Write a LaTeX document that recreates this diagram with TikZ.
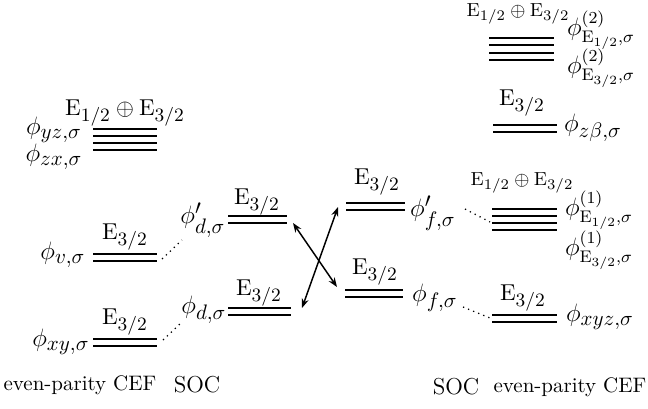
\documentclass[tikz,border=0pt]{standalone}
\usepackage{amsmath}
\usetikzlibrary{arrows.meta}
\DeclareMathSizes{9}{9}{7}{5}
\DeclareMathSizes{11}{11}{9}{7}
\DeclareMathSizes{12}{12}{8}{6}
\DeclareMathSizes{13}{13}{10}{8}
\tikzset{
  lvl/.style   ={double,double distance=2.4pt,line width=0.9pt},
  elbl/.style  ={font=\fontsize{11}{13}\selectfont,inner sep=0pt},
  esml/.style  ={font=\fontsize{9}{11}\selectfont,inner sep=0pt},
  philbl/.style={font=\fontsize{13}{15}\selectfont,inner sep=0pt},
  phisup/.style={font=\fontsize{12}{14}\selectfont,inner sep=0pt},
  captxt/.style={font=\fontsize{10}{12}\selectfont,inner sep=0pt},
  soctxt/.style={font=\fontsize{11}{13}\selectfont,inner sep=0pt},
  dotln/.style ={dotted,line width=0.6pt},
  biar/.style  ={{Stealth[length=4.5pt]}-{Stealth[length=4.5pt]},line width=0.7pt},
}
\begin{document}
\begin{tikzpicture}[x=0.01675cm,y=-0.01675cm]
  \useasboundingbox (0,0) rectangle (648,408);
  % even-parity CEF, left
  \coordinate (yzL) at (93,132.5);  \coordinate (yzR) at (157,132.5);
  \coordinate (zxL) at (93,146.5);  \coordinate (zxR) at (157,146.5);
  \coordinate (vL)  at (93,257.5);  \coordinate (vR)  at (157,257.5);
  \coordinate (xyL) at (93,342.5);  \coordinate (xyR) at (157,342.5);
  \draw[lvl] (yzL) -- (yzR);
  \draw[lvl] (zxL) -- (zxR);
  \draw[lvl] (vL) -- (vR);
  \draw[lvl] (xyL) -- (xyR);
  \node[elbl] (eyz) at (125,113) {$\mathrm{E}_{1/2}\oplus\mathrm{E}_{3/2}$};
  \node[philbl] (pyz) at (54,130) {$\phi_{yz,\sigma}$};
  \node[philbl] (pzx) at (54,157) {$\phi_{zx,\sigma}$};
  \node[elbl] (ev) at (125,237) {$\mathrm{E}_{3/2}$};
  \node[philbl] (pv) at (63,255) {$\phi_{v,\sigma}$};
  \node[elbl] (exy) at (125,322) {$\mathrm{E}_{3/2}$};
  \node[philbl] (pxy) at (61,342) {$\phi_{xy,\sigma}$};
  % SOC, left
  \coordinate (dpL) at (228,219.5); \coordinate (dpR) at (287,219.5);
  \coordinate (dL)  at (228,311.5); \coordinate (dR)  at (291,311.5);
  \draw[lvl] (dpL) -- (dpR);
  \draw[lvl] (dL) -- (dR);
  \node[elbl] (edp) at (257,202) {$\mathrm{E}_{3/2}$};
  \node[philbl] (pdp) at (203,220) {$\phi'_{d,\sigma}$};
  \node[elbl] (ed) at (259,293) {$\mathrm{E}_{3/2}$};
  \node[philbl] (pd) at (204,310) {$\phi_{d,\sigma}$};
  \coordinate (v1) at (162,259);  \coordinate (v2) at (182,240);
  \coordinate (xy1) at (163,340); \coordinate (xy2) at (182,322);
  \draw[dotln] (v1) -- (v2);
  \draw[dotln] (xy1) -- (xy2);
  % SOC, right
  \coordinate (fpL) at (346,206.5); \coordinate (fpR) at (405,206.5);
  \coordinate (fL)  at (345,293.5); \coordinate (fR)  at (403,293.5);
  \draw[lvl] (fpL) -- (fpR);
  \draw[lvl] (fL) -- (fR);
  \node[elbl] (efp) at (377,182) {$\mathrm{E}_{3/2}$};
  \node[philbl] (pfp) at (433,213) {$\phi'_{f,\sigma}$};
  \node[elbl] (ef) at (375,272) {$\mathrm{E}_{3/2}$};
  \node[philbl] (pf) at (435,298) {$\phi_{f,\sigma}$};
  % crossing arrows
  \coordinate (a1) at (293,223); \coordinate (a2) at (337,287);
  \coordinate (b1) at (302,308); \coordinate (b2) at (338,207);
  \draw[biar] (a1) -- (a2);
  \draw[biar] (b1) -- (b2);
  % even-parity CEF, right
  \coordinate (q1aL) at (492,212.5); \coordinate (q1aR) at (557,212.5);
  \coordinate (q1bL) at (492,226.5); \coordinate (q1bR) at (557,226.5);
  \coordinate (xyzL) at (492,318.5); \coordinate (xyzR) at (557,318.5);
  \coordinate (zbL)  at (493,128.5); \coordinate (zbR)  at (557,128.5);
  \coordinate (q2aL) at (489,41.5);  \coordinate (q2aR) at (554,41.5);
  \coordinate (q2bL) at (489,56.5);  \coordinate (q2bR) at (554,56.5);
  \draw[lvl] (q1aL) -- (q1aR);
  \draw[lvl] (q1bL) -- (q1bR);
  \draw[lvl] (xyzL) -- (xyzR);
  \draw[lvl] (zbL) -- (zbR);
  \draw[lvl] (q2aL) -- (q2aR);
  \draw[lvl] (q2bL) -- (q2bR);
  \node[esml] (eq1) at (522,183) {$\mathrm{E}_{1/2}\oplus\mathrm{E}_{3/2}$};
  \node[phisup] (pq1a) at (599,210) {$\phi^{(1)}_{\mathrm{E}_{1/2},\sigma}$};
  \node[phisup] (pq1b) at (599,250) {$\phi^{(1)}_{\mathrm{E}_{3/2},\sigma}$};
  \node[elbl] (exyz) at (523,298) {$\mathrm{E}_{3/2}$};
  \node[philbl] (pxyz) at (600,317) {$\phi_{xyz,\sigma}$};
  \node[elbl] (ezb) at (522,103) {$\mathrm{E}_{3/2}$};
  \node[philbl] (pzb) at (593,128) {$\phi_{z\beta,\sigma}$};
  \node[esml] (eq2) at (518,14) {$\mathrm{E}_{1/2}\oplus\mathrm{E}_{3/2}$};
  \node[phisup] (pq2a) at (601,30) {$\phi^{(2)}_{\mathrm{E}_{1/2},\sigma}$};
  \node[phisup] (pq2b) at (601,68) {$\phi^{(2)}_{\mathrm{E}_{3/2},\sigma}$};
  \coordinate (fp1) at (465,209); \coordinate (fp2) at (490,222);
  \coordinate (f1) at (463,307);  \coordinate (f2) at (490,318);
  \draw[dotln] (fp1) -- (fp2);
  \draw[dotln] (f1) -- (f2);
  % bottom captions
  \node[captxt] (cefL) at (80,385) {even-parity CEF};
  \node[soctxt] (socL) at (197,385) {SOC};
  \node[soctxt] (socR) at (456,387) {SOC};
  \node[captxt] (cefR) at (570,387) {even-parity CEF};
\end{tikzpicture}
\end{document}
